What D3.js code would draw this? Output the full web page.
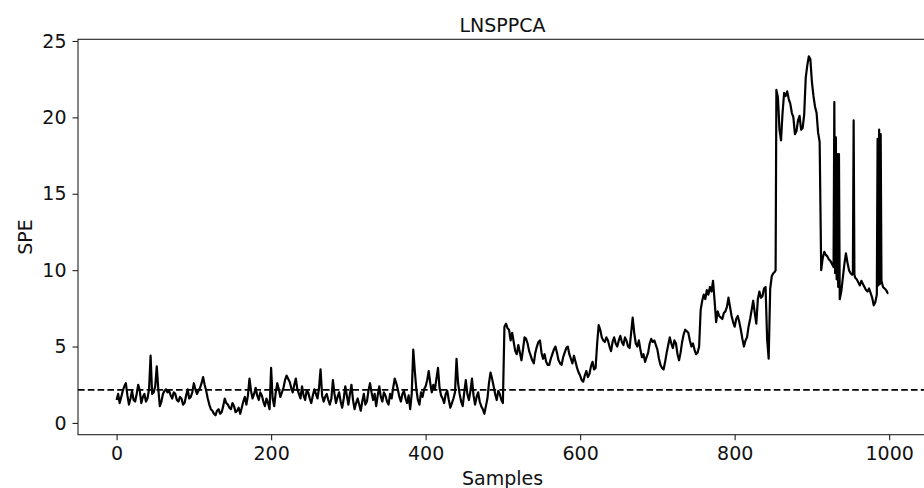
<!DOCTYPE html>
<html>
<head>
<meta charset="utf-8">
<script src="https://cdn.jsdelivr.net/npm/d3@7"></script>
<style>
body { margin: 0; background: #fff; overflow: hidden; }
svg { display: block; font-family: "DejaVu Sans", sans-serif; }
</style>
</head>
<body>
<svg id="chart"></svg>
<script>
var width = 924;
var height = 488;

// SPE read at samples 0, 4, 8, ..., 996
var speEven = [
    1.5, 1.3, 2.1, 2.6, 1.2, 2.1, 1.4, 2.5, 1.3, 1.9,
    1.6, 4.4, 2.0, 3.7, 1.1, 1.9, 2.2, 2.1, 1.6, 1.9,
    1.4, 1.6, 1.3, 2.2, 1.7, 2.6, 1.9, 2.3, 3.0, 2.1,
    1.2, 0.8, 0.5, 0.9, 0.7, 1.6, 1.2, 0.9, 1.1, 0.8,
    0.6, 1.4, 1.2, 2.9, 1.6, 2.3, 1.5, 1.8, 1.1, 1.3,
    3.6, 1.1, 2.6, 1.7, 2.3, 3.1, 2.7, 2.0, 2.9, 1.9,
    2.4, 1.5, 2.0, 1.3, 2.2, 1.6, 3.5, 1.4, 1.9, 1.2,
    2.8, 1.3, 2.0, 1.0, 2.4, 1.2, 2.5, 0.9, 1.6, 0.8,
    1.9, 1.4, 2.6, 1.5, 1.1, 2.4, 1.4, 1.8, 1.2, 1.6,
    2.9, 2.2, 1.4, 2.1, 1.3, 0.9, 4.8, 2.2, 1.2, 1.7,
    2.4, 3.4, 2.0, 2.2, 3.6, 1.8, 1.3, 2.1, 1.0, 1.6,
    4.2, 1.9, 1.1, 2.8, 1.5, 2.9, 1.2, 2.0, 1.1, 0.6,
    1.6, 3.3, 2.4, 1.5, 1.9, 1.3, 6.5, 6.1, 5.9, 4.7,
    5.1, 4.1, 5.6, 5.2, 4.4, 3.9, 5.0, 5.4, 4.2, 4.0,
    3.8, 4.5, 5.0, 4.1, 3.8, 4.6, 5.0, 4.2, 4.4, 3.6,
    3.1, 2.7, 3.4, 3.2, 4.0, 3.6, 6.4, 5.6, 5.3, 5.4,
    4.7, 5.6, 5.0, 5.7, 5.1, 5.4, 4.9, 6.9, 5.2, 5.4,
    4.3, 4.0, 4.6, 5.5, 5.4, 4.8, 3.8, 3.5, 4.6, 5.6,
    4.9, 5.2, 4.1, 5.3, 6.1, 5.9, 5.0, 4.8, 4.6, 7.4,
    8.4, 8.7, 8.9, 9.3, 6.6, 7.0, 6.8, 7.3, 8.2, 7.0,
    6.3, 7.0, 6.1, 5.0, 5.6, 6.8, 8.0, 6.5, 8.6, 8.3,
    8.9, 4.2, 9.6, 9.9, 21.3, 18.5, 21.6, 21.7, 20.9, 20.0,
    19.1, 20.1, 19.3, 22.6, 24.0, 22.3, 20.7, 19.0, 10.0, 11.2,
    10.9, 10.6, 10.2, 9.4, 8.1, 9.5, 11.1, 10.0, 9.7, 9.5,
    9.2, 9.3, 8.9, 8.6, 8.5, 7.7, 8.4, 9.1, 8.9, 8.7
];

// SPE read at samples 2, 6, 10, ..., 998
var speOdd = [
    1.9, 1.7, 2.4, 1.8, 1.6, 1.5, 1.9, 2.1, 1.7, 1.4,
    2.2, 1.9, 2.4, 2.2, 1.4, 2.1, 2.0, 1.8, 2.0, 1.5,
    1.7, 1.2, 1.8, 1.6, 2.0, 2.2, 2.1, 2.6, 2.5, 1.6,
    0.9, 0.6, 0.8, 0.6, 1.1, 1.3, 1.0, 1.3, 0.7, 1.0,
    1.0, 1.7, 1.8, 2.1, 1.9, 1.8, 2.0, 1.4, 1.6, 0.9,
    1.6, 2.0, 2.2, 2.0, 2.8, 2.9, 2.3, 2.5, 2.2, 1.6,
    1.8, 2.1, 1.6, 1.8, 1.9, 2.3, 1.8, 1.7, 1.5, 1.6,
    1.9, 1.7, 1.4, 1.6, 1.8, 1.9, 1.5, 1.3, 1.2, 1.4,
    1.2, 2.1, 2.0, 1.9, 1.8, 1.7, 2.0, 1.4, 1.9, 2.3,
    2.6, 1.7, 1.9, 1.6, 1.8, 1.9, 3.4, 1.5, 2.0, 2.2,
    2.8, 2.6, 2.5, 2.9, 2.3, 1.6, 1.9, 1.5, 1.3, 2.0,
    2.6, 1.4, 2.0, 1.9, 2.1, 1.8, 1.7, 1.4, 0.9, 1.1,
    2.6, 2.9, 1.9, 2.1, 1.5, 6.3, 6.2, 5.4, 5.3, 4.5,
    4.6, 4.8, 5.5, 4.7, 4.1, 4.6, 5.3, 4.6, 4.5, 3.8,
    4.2, 4.8, 4.6, 3.9, 4.3, 4.9, 4.5, 3.9, 4.0, 3.3,
    2.8, 3.1, 3.0, 3.7, 3.5, 5.2, 6.1, 5.4, 5.6, 5.0,
    5.3, 5.2, 5.4, 5.3, 5.6, 5.0, 5.9, 5.9, 5.0, 4.8,
    4.5, 4.3, 5.2, 5.3, 5.1, 4.2, 3.6, 4.0, 5.1, 5.2,
    5.4, 4.5, 4.6, 5.8, 6.0, 5.4, 5.2, 4.5, 5.0, 8.0,
    8.1, 8.4, 8.6, 8.0, 7.3, 6.9, 7.2, 7.6, 7.6, 6.6,
    6.8, 6.6, 5.5, 5.4, 6.3, 7.4, 7.2, 8.1, 8.2, 8.8,
    5.5, 8.8, 9.8, 21.8, 19.2, 20.3, 21.4, 21.2, 20.3, 18.9,
    19.8, 19.2, 20.2, 23.4, 23.8, 21.4, 20.3, 18.4, 10.8, 11.0,
    10.7, 10.4, 9.8, 8.9, 8.6, 10.4, 10.5, 9.8, 19.8, 9.4,
    9.0, 9.1, 8.7, 8.8, 8.2, 7.9, 9.0, 9.3, 8.8, 8.5
];

// single samples inside the sharp jumps and spikes
var spikeSamples = [853, 929, 931, 933, 935, 953, 955, 985, 987, 989, 999];
var spikeValues = [10.0, 21.0, 18.7, 17.6, 17.6, 9.8, 9.7, 18.6, 19.2, 18.9, 8.5];

var threshold = 2.17;
var xTicks = [0, 200, 400, 600, 800, 1000];
var yTicks = [0, 5, 10, 15, 20, 25];

//put all readings in one sorted list
var points = [];
speEven.forEach(function (v, i) { points.push({ s: i * 4, v: v }); });
speOdd.forEach(function (v, i) { points.push({ s: i * 4 + 2, v: v }); });
spikeSamples.forEach(function (s, i) { points.push({ s: s, v: spikeValues[i] }); });
points.sort(function (a, b) { return a.s - b.s; });

var box = { left: 78, right: 927, top: 39.3, bottom: 434.7 };

var x = d3.scaleLinear().domain([-49.95, 1048.95]).range([box.left, box.right]);
var y = d3.scaleLinear().domain([-0.77, 25.11]).range([box.bottom, box.top]);

var svg = d3.select("#chart")
    .attr("width", width)
    .attr("height", height);

svg.append("rect")
    .attr("width", width)
    .attr("height", height)
    .attr("fill", "#fff");

// threshold
svg.append("line")
    .attr("x1", box.left)
    .attr("x2", box.right)
    .attr("y1", y(threshold))
    .attr("y2", y(threshold))
    .attr("stroke", "#000")
    .attr("stroke-width", 1.8)
    .attr("stroke-dasharray", "6.6,3.2");

var line = d3.line()
    .x(function (d) { return x(d.s); })
    .y(function (d) { return y(d.v); });

svg.append("path")
    .datum(points)
    .attr("d", line)
    .attr("fill", "none")
    .attr("stroke", "#000")
    .attr("stroke-width", 2.2)
    .attr("stroke-linejoin", "round");

// spines
svg.append("rect")
    .attr("x", box.left)
    .attr("y", box.top)
    .attr("width", box.right - box.left)
    .attr("height", box.bottom - box.top)
    .attr("fill", "none")
    .attr("stroke", "#222")
    .attr("stroke-width", 1.1);

var xAxis = svg.append("g")
    .attr("transform", "translate(0," + box.bottom + ")")
    .call(d3.axisBottom(x).tickValues(xTicks).tickFormat(d3.format("d")).tickSize(5.5).tickPadding(6));

var yAxis = svg.append("g")
    .attr("transform", "translate(" + box.left + ",0)")
    .call(d3.axisLeft(y).tickValues(yTicks).tickFormat(d3.format("d")).tickSize(5.5).tickPadding(6));

[xAxis, yAxis].forEach(function (g) {
    g.select(".domain").remove();
    g.selectAll(".tick line").attr("stroke", "#222").attr("stroke-width", 1.1);
    g.selectAll(".tick text")
        .attr("fill", "#111")
        .style("font-family", "DejaVu Sans")
        .style("font-size", "19px");
});

svg.append("text")
    .attr("x", (box.left + box.right) / 2)
    .attr("y", 32)
    .attr("text-anchor", "middle")
    .style("font-size", "19px")
    .attr("fill", "#111")
    .text("LNSPPCA");

svg.append("text")
    .attr("x", (box.left + box.right) / 2)
    .attr("y", 485)
    .attr("text-anchor", "middle")
    .style("font-size", "19px")
    .attr("fill", "#111")
    .text("Samples");

svg.append("text")
    .attr("transform", "translate(32," + ((box.top + box.bottom) / 2) + ") rotate(-90)")
    .attr("text-anchor", "middle")
    .style("font-size", "19px")
    .attr("fill", "#111")
    .text("SPE");
</script>
</body>
</html>
